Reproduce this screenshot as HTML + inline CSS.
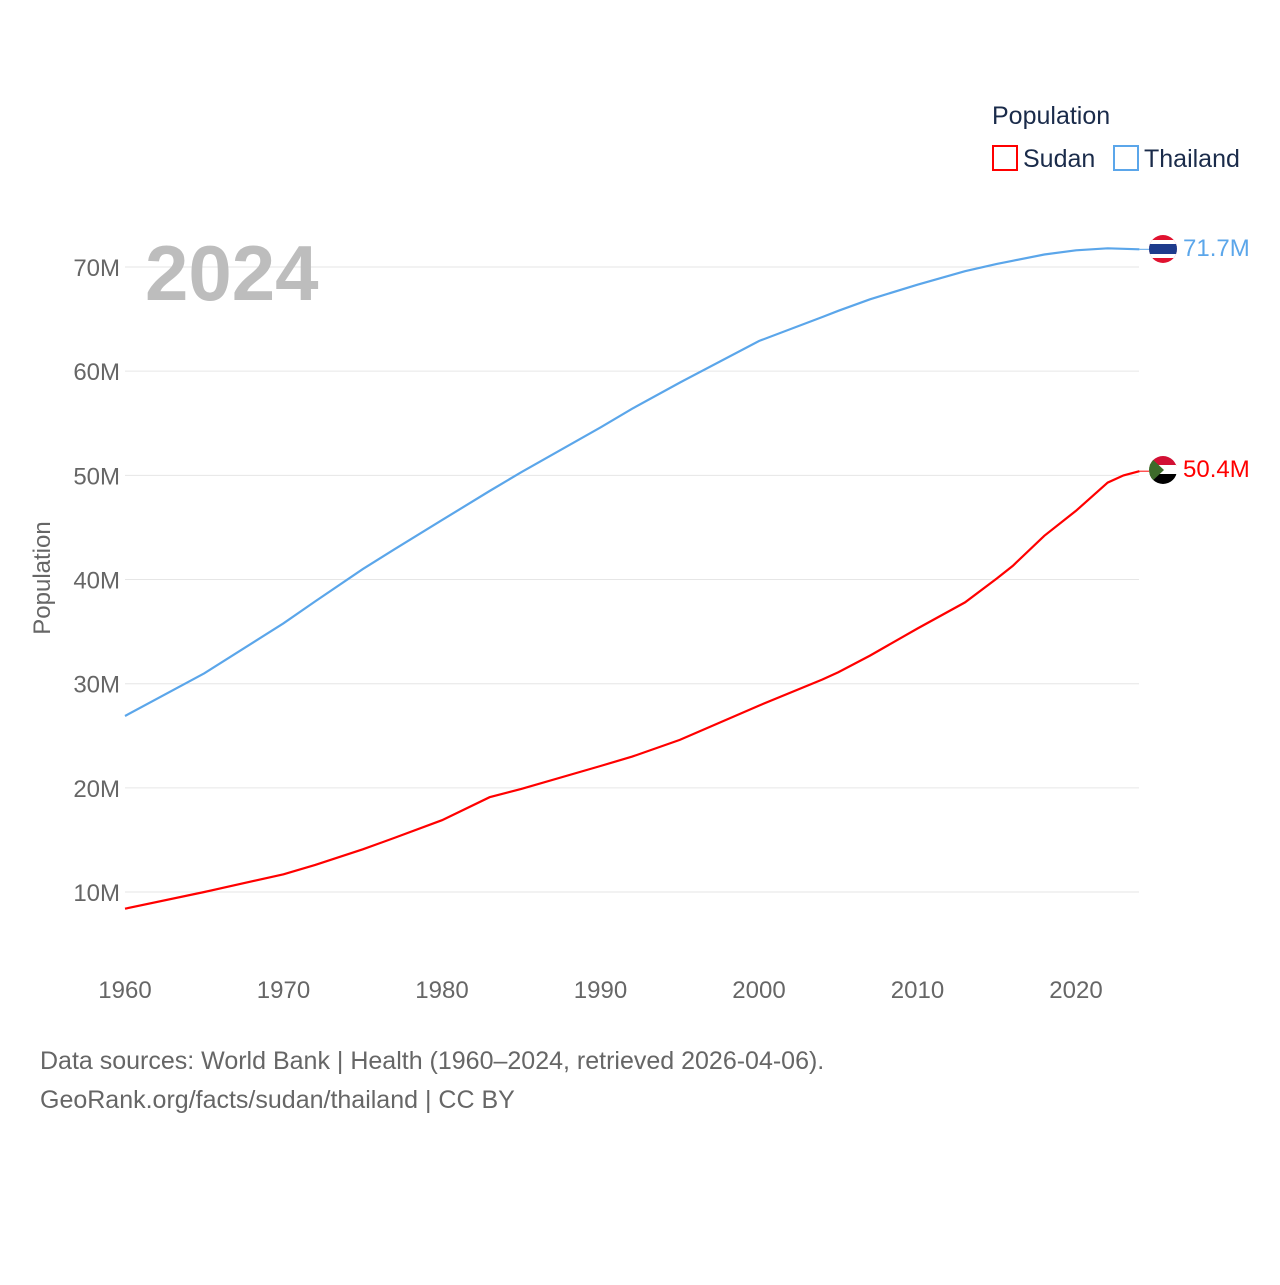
<!DOCTYPE html>
<html><head><meta charset="utf-8"><style>
body{margin:0;background:#fff;font-family:"Liberation Sans",sans-serif;}
svg text{font-family:"Liberation Sans",sans-serif;}
</style></head><body>
<svg width="1280" height="1280" viewBox="0 0 1280 1280" id="chart">
<defs>
<clipPath id="c1"><circle cx="1163" cy="249" r="14"/></clipPath>
<clipPath id="c2"><circle cx="1163" cy="470" r="14"/></clipPath>
</defs>
<g id="grid"></g>
<text x="145" y="300" font-size="78" font-weight="bold" fill="#bdbdbd">2024</text>
<text transform="translate(50,578) rotate(-90)" text-anchor="middle" font-size="24" fill="#666">Population</text>
<g id="series"></g>
<g>
<text x="992" y="124" font-size="25" fill="#1a2b4a">Population</text>
<rect x="993" y="146" width="24" height="24" fill="none" stroke="red" stroke-width="2"/>
<text x="1023" y="167" font-size="25" fill="#1a2b4a">Sudan</text>
<rect x="1114" y="146" width="24" height="24" fill="none" stroke="#5ba6ea" stroke-width="2"/>
<text x="1144" y="167" font-size="25" fill="#1a2b4a">Thailand</text>
</g>
<g clip-path="url(#c1)">
<rect x="1149" y="235" width="28" height="28" fill="#e0122f"/>
<rect x="1149" y="240" width="28" height="18" fill="#fff"/>
<rect x="1149" y="244" width="28" height="10" fill="#1e3b8c"/>
</g>
<g clip-path="url(#c2)">
<rect x="1149" y="456" width="28" height="10" fill="#d21034"/>
<rect x="1149" y="465" width="28" height="10" fill="#fff"/>
<rect x="1149" y="474" width="28" height="10" fill="#000"/>
<polygon points="1149,456 1164,470 1149,484" fill="#3d6b2a"/>
</g>
<text x="1183" y="256" font-size="24" fill="#5ba6ea">71.7M</text>
<text x="1183" y="477" font-size="24" fill="red">50.4M</text>
<text x="40" y="1069" font-size="25" fill="#666">Data sources: World Bank | Health (1960–2024, retrieved 2026-04-06).</text>
<text x="40" y="1108" font-size="25" fill="#666">GeoRank.org/facts/sudan/thailand | CC BY</text>
</svg>
<script>
const years=[1960,1965,1970,1972,1975,1977,1980,1983,1985,1990,1992,1995,2000,2004,2005,2007,2010,2013,2015,2016,2018,2020,2022,2023,2024];
const thailand=[26.9,31.0,35.8,37.9,41.0,42.9,45.7,48.5,50.3,54.6,56.4,58.9,62.9,65.2,65.8,66.9,68.3,69.6,70.3,70.6,71.2,71.6,71.8,71.75,71.7];
const sudan=[8.4,10.0,11.7,12.6,14.1,15.2,16.9,19.1,19.9,22.1,23.0,24.6,27.9,30.4,31.1,32.7,35.3,37.8,40.1,41.3,44.2,46.6,49.3,50.0,50.4];
const yTicks=[10,20,30,40,50,60,70];
const xTicks=[1960,1970,1980,1990,2000,2010,2020];
const NS="http://www.w3.org/2000/svg";
const xs=y=>125+(y-1960)*(1076-125)/60;
const ys=v=>996.2-v*10.417;
const grid=document.getElementById('grid');
yTicks.forEach(t=>{
 const l=document.createElementNS(NS,'line');
 l.setAttribute('x1',125);l.setAttribute('x2',1139);l.setAttribute('y1',ys(t));l.setAttribute('y2',ys(t));
 l.setAttribute('stroke','#e6e6e6');
 
 
 grid.appendChild(l);
 const tx=document.createElementNS(NS,'text');
 tx.setAttribute('x',120);tx.setAttribute('y',ys(t)+9);tx.setAttribute('text-anchor','end');
 tx.setAttribute('font-size','24');tx.setAttribute('fill','#666');tx.textContent=t+'M';
 
 
 grid.appendChild(tx);
});
xTicks.forEach(t=>{
 const tx=document.createElementNS(NS,'text');
 tx.setAttribute('x',xs(t));tx.setAttribute('y',998);tx.setAttribute('text-anchor','middle');
 tx.setAttribute('font-size','24');tx.setAttribute('fill','#666');tx.textContent=t;
 
 
 grid.appendChild(tx);
});
const sg=document.getElementById('series');
function line(vals,color,name){
 const p=document.createElementNS(NS,'path');
 p.setAttribute('d',vals.map((v,i)=>(i?'L':'M')+xs(years[i]).toFixed(1)+','+ys(v).toFixed(1)).join(''));
 p.setAttribute('fill','none');p.setAttribute('stroke',color);p.setAttribute('stroke-width','2.2');
 
 
 sg.appendChild(p);
 const last=vals[vals.length-1];
 const c=document.createElementNS(NS,'line');
 c.setAttribute('x1',xs(years[years.length-1]));c.setAttribute('x2',1150);
 c.setAttribute('y1',ys(last));c.setAttribute('y2',ys(last));
 c.setAttribute('stroke',color);c.setAttribute('stroke-width','1');
 
 
 sg.appendChild(c);
}
line(thailand,'#5ba6ea','thailand-line');
line(sudan,'#ff0000','sudan-line');
</script>
</body></html>
